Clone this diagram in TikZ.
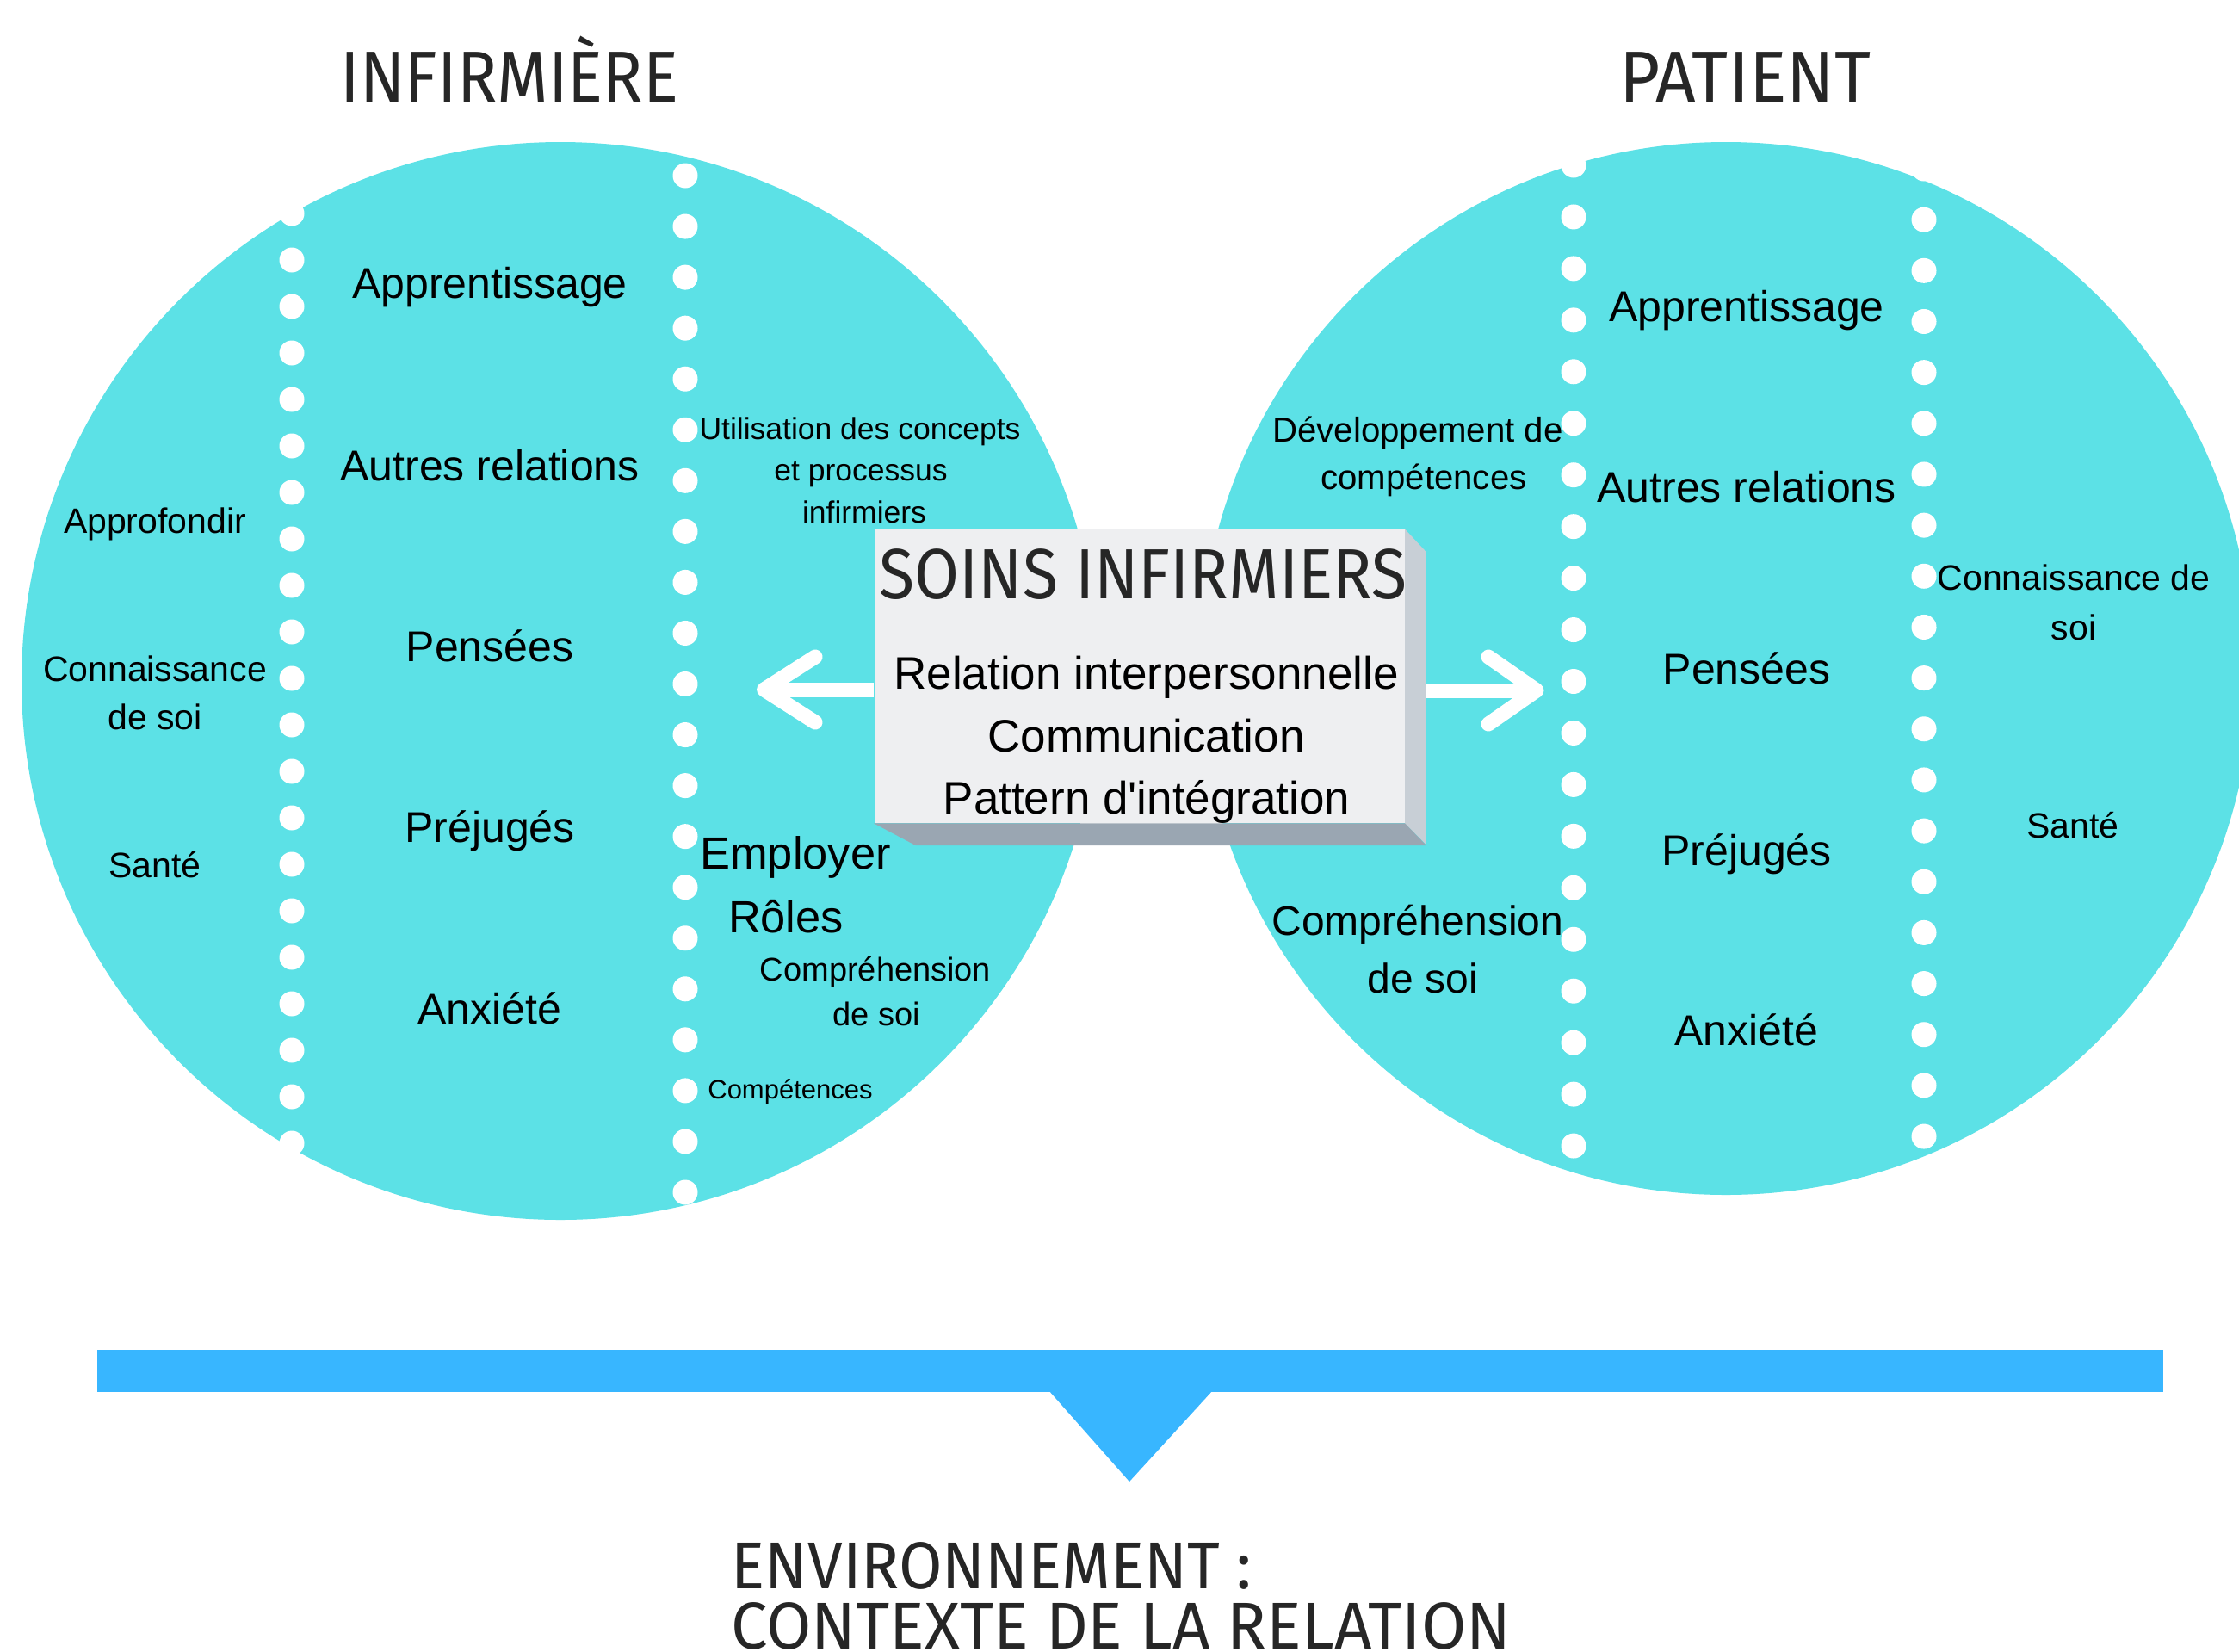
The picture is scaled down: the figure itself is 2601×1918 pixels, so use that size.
\documentclass[tikz,border=0pt]{standalone}
\usepackage{fontspec}
\setmainfont{Liberation Sans}[Ligatures=TeXOff]
\newfontfamily\titlefont{Fira Sans}
\definecolor{turq}{HTML}{5CE1E6}
\definecolor{barblue}{HTML}{38B6FF}
\definecolor{boxfront}{HTML}{EEEFF1}
\definecolor{boxside}{HTML}{C8CFD6}
\definecolor{boxbottom}{HTML}{9AA6B2}
\definecolor{titlegray}{HTML}{262626}
\newcommand\myfs[1]{\fontsize{#1pt}{#1pt}\selectfont}
\begin{document}
\begin{tikzpicture}[x=0.5pt,y=-0.5pt,
  txt/.style={inner sep=0pt, anchor=base, text=black},
  big/.style={txt, font=\myfs{25}},
  outer/.style={txt, font=\myfs{20.5}},
  ttl/.style={inner sep=0pt, anchor=base, text=titlegray},
  whitedot/.style={fill=white},
  chev/.style={draw=white, line width=8.5pt, line cap=round, line join=round},
  shaft/.style={draw=white, line width=8.5pt, line cap=butt}]
\useasboundingbox (0,0) rectangle (2601,1918);
\clip (0,0) rectangle (2601,1918);
\fill[white] (0,0) rectangle (2601,1918);
% circles
\fill[turq] (651,791) circle (626);
\fill[turq] (2005,776.5) circle (611.5);
% dotted lines
\foreach \i in {0,...,20} \fill[whitedot] (339,248+54*\i) circle (14.5);
\foreach \i in {0,...,20} \fill[whitedot] (796,204+59.05*\i) circle (14.5);
\foreach \i in {0,...,19} \fill[whitedot] (1828,192+59.95*\i) circle (14.5);
\foreach \i in {0,...,19} \fill[whitedot] (2235,196+59.16*\i) circle (14.5);
% titles
\node[ttl, font=\titlefont\myfs{42}] (tinf) at (592,118) {\resizebox{196pt}{\height}{INFIRMIÈRE}};
\node[ttl, font=\titlefont\myfs{42}] (tpat) at (2027,118) {\resizebox{146pt}{\height}{PATIENT}};
% left circle texts
\node[big] (la1) at (569,346) {Apprentissage};
\node[big] (la2) at (569,558) {Autres relations};
\node[big] (la3) at (569,768) {Pensées};
\node[big] (la4) at (569,978) {Préjugés};
\node[big] (la5) at (569,1189) {Anxiété};
\node[outer] (lo1) at (180,619) {Approfondir};
\node[outer] (lo2) at (180,791) {Connaissance};
\node[outer] (lo3) at (180,847) {de soi};
\node[outer] (lo4) at (180,1019) {Santé};
\node[txt, font=\myfs{17.75}] (lu1) at (999,510) {Utilisation des concepts};
\node[txt, font=\myfs{17.75}] (lu2) at (1000,558) {et processus};
\node[txt, font=\myfs{17.75}] (lu3) at (1004,607) {infirmiers};
\node[txt, font=\myfs{26.2}] (lem) at (924,1009) {Employer};
\node[txt, font=\myfs{26.2}] (lro) at (913,1083) {Rôles};
\node[txt, font=\myfs{19}] (lc1) at (1017,1139) {Compréhension};
\node[txt, font=\myfs{19}] (lc2) at (1018,1191) {de soi};
\node[txt, font=\myfs{15.5}] (lcp) at (918,1276) {Compétences};
% right circle texts
\node[big] (ra1) at (2029,373) {Apprentissage};
\node[big] (ra2) at (2029,583) {Autres relations};
\node[big] (ra3) at (2029,794) {Pensées};
\node[big] (ra4) at (2029,1005) {Préjugés};
\node[big] (ra5) at (2029,1214) {Anxiété};
\node[txt, font=\myfs{20.1}] (rd1) at (1647,513) {Développement de};
\node[txt, font=\myfs{20.1}] (rd2) at (1654,568) {compétences};
\node[txt, font=\myfs{24}] (rc1) at (1647,1086) {Compréhension};
\node[txt, font=\myfs{24}] (rc2) at (1653,1153) {de soi};
\node[outer] (ro1) at (2409,685) {Connaissance de};
\node[outer] (ro2) at (2409,743) {soi};
\node[outer] (ro3) at (2408,973) {Santé};
% central box
\node[fill=boxfront, minimum width=308.05pt, minimum height=170.5pt, inner sep=0pt] (box) at (1323.55,785.5) {};
\fill[boxside] (box.north east) -- ++(24.9,26.7) -- ++(0,340) -- (box.south east) -- cycle;
\fill[boxbottom] (box.south west) -- (box.south east) -- ++(24.9,25.7) -- ++(-593.1,0) -- cycle;
\coordinate (boxsideE) at ([xshift=12.45pt]box.east);
\node[ttl, font=\titlefont\myfs{41.3}] (soins) at (1328,695) {\resizebox{306.5pt}{\height}{SOINS INFIRMIERS}};
\node[txt, font=\myfs{26.5}] (b1) at (1331.5,800) {Relation interpersonnelle};
\node[txt, font=\myfs{26.5}] (b2) at (1331.6,873) {Communication};
\node[txt, font=\myfs{26.5}] (b3) at (1332,945) {Pattern d'intégration};
% arrows
\coordinate (ltip) at (887.5,801);
\coordinate (lup) at (947,763);
\coordinate (ldn) at (947,839);
\coordinate (rtip) at (1785,802);
\coordinate (rup) at (1729,763);
\coordinate (rdn) at (1729,841);
\draw[shaft] (ltip -| box.west) -- (ltip);
\draw[chev] (lup) -- (ltip) -- (ldn);
\draw[shaft] (rtip -| boxsideE) -- (rtip);
\draw[chev] (rup) -- (rtip) -- (rdn);
% environment bar
\fill[barblue] (113,1568) rectangle (2513,1617);
\fill[barblue] (1219,1616) -- (1312,1721) -- (1408,1616) -- cycle;
\node[ttl, anchor=base west, font=\titlefont\myfs{38.5}] (env1) at (849,1845) {\resizebox{302.5pt}{\height}{ENVIRONNEMENT :}};
\node[ttl, anchor=base west, font=\titlefont\myfs{38.5}] (env2) at (849,1915) {\resizebox{453pt}{\height}{CONTEXTE DE LA RELATION}};
\end{tikzpicture}
\end{document}
